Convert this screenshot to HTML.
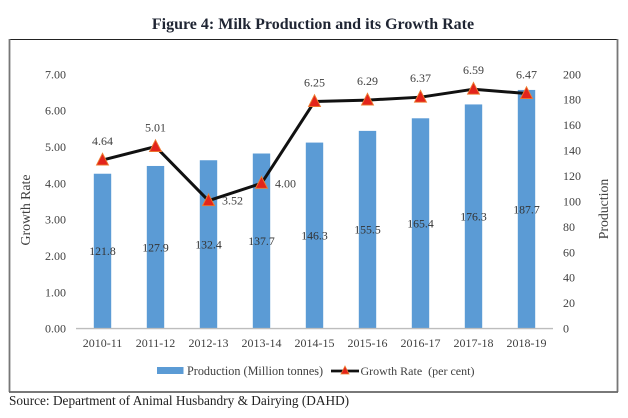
<!DOCTYPE html>
<html lang="en">
<head>
<meta charset="utf-8">
<title>Figure 4: Milk Production and its Growth Rate</title>
<style>
html,body{margin:0;padding:0;background:#fff;width:628px;height:418px;overflow:hidden}
svg{display:block;font-family:"Liberation Serif",serif}
</style>
</head>
<body>
<svg id="chart" width="628" height="418" viewBox="0 0 628 418" xmlns="http://www.w3.org/2000/svg">
  <rect x="0" y="0" width="628" height="418" fill="#fff"/>
  <text x="313" y="29" text-anchor="middle" font-size="16" font-weight="bold" fill="#1f2533">Figure 4: Milk Production and its Growth Rate</text>
  <line x1="9" y1="39.5" x2="618" y2="39.5" stroke="#222" stroke-width="1"/>
  <line x1="9.5" y1="39" x2="9.5" y2="392" stroke="#777" stroke-width="1.8"/>
  <line x1="617.5" y1="39" x2="617.5" y2="392" stroke="#777" stroke-width="1.8"/>
  <line x1="9" y1="392" x2="618" y2="392" stroke="#666" stroke-width="1.8"/>
  <g id="bars"></g>
  <line x1="76" y1="328.6" x2="553" y2="328.6" stroke="#bdbdbd" stroke-width="1.4"/>
  <g id="ticks"></g>
  <g id="line-series"></g>
  <g id="labels"></g>
  <text transform="translate(30,210) rotate(-90)" text-anchor="middle" font-size="13.8" fill="#404040">Growth Rate</text>
  <text transform="translate(608,209) rotate(-90)" text-anchor="middle" font-size="13.8" fill="#404040">Production</text>
  <g>
    <rect x="157" y="367" width="26.5" height="7" fill="#5b9bd5"/>
    <text x="187" y="375" font-size="12.2" fill="#404040">Production (Million tonnes)</text>
    <line x1="331" y1="371" x2="359" y2="371" stroke="#111" stroke-width="2.8"/>
    <polygon points="345,366 349,374 341,374" fill="#e3241b" stroke="#ed7d31" stroke-width="0.8"/>
    <text x="360.5" y="375" font-size="12" fill="#404040" xml:space="preserve">Growth Rate  (per cent)</text>
  </g>
  <text x="9" y="405" font-size="13.3" fill="#222">Source: Department of Animal Husbandry &amp; Dairying (DAHD)</text>
</svg>
<script>
var categories = ['2010-11','2011-12','2012-13','2013-14','2014-15','2015-16','2016-17','2017-18','2018-19'];
var production = [121.8,127.9,132.4,137.7,146.3,155.5,165.4,176.3,187.7];
var growthRate = [4.64,5.01,3.52,4.00,6.25,6.29,6.37,6.59,6.47];
var growthLabelSide = ['top','top','right','right','top','top','top','top','top'];
var leftTicks = [0,1,2,3,4,5,6,7];
var rightTicks = [0,20,40,60,80,100,120,140,160,180,200];

var NS = 'http://www.w3.org/2000/svg';
var plotLeft = 76, plotRight = 553, plotBottom = 328.6, plotTop = 74.3;
var leftMax = 7, rightMax = 200;

function xScale(i){ return plotLeft + (plotRight - plotLeft) * (i + 0.5) / categories.length; }
function yLeft(v){ return plotBottom - (plotBottom - plotTop) * v / leftMax; }
function yRight(v){ return plotBottom - (plotBottom - plotTop) * v / rightMax; }
function make(tag, attrs, parent, txt){
  var el = document.createElementNS(NS, tag);
  for (var k in attrs) el.setAttribute(k, attrs[k]);
  if (txt !== undefined) el.textContent = txt;
  parent.appendChild(el);
  return el;
}
var textColor = '#404040';
var barsG = document.getElementById('bars');
var ticksG = document.getElementById('ticks');
var lineG = document.getElementById('line-series');
var labelsG = document.getElementById('labels');

leftTicks.forEach(function(v){
  var t = make('text', {x:66, y:yLeft(v)+4, 'text-anchor':'end', 'font-size':12, fill:textColor}, ticksG, v.toFixed(2));
  
  
});
rightTicks.forEach(function(v){
  var t = make('text', {x:563, y:yRight(v)+4, 'font-size':12, fill:textColor}, ticksG, String(v));
  
  
});
categories.forEach(function(c, i){
  var t = make('text', {x:xScale(i), y:347, 'text-anchor':'middle', 'font-size':12, fill:textColor}, ticksG, c);
  
  
});
production.forEach(function(v, i){
  var y = yRight(v);
  var b = make('rect', {x:xScale(i)-8.7, y:y, width:17.4, height:plotBottom-y, fill:'#5b9bd5'}, barsG);
  
  
  var t = make('text', {x:xScale(i), y:(y+plotBottom)/2+4, 'text-anchor':'middle', 'font-size':11.8, fill:'#333'}, labelsG, v.toFixed(1));
  
  
});
var pts = growthRate.map(function(v, i){ return xScale(i) + ',' + yLeft(v); }).join(' ');
var pl = make('polyline', {points:pts, fill:'none', stroke:'#111', 'stroke-width':3, 'stroke-linejoin':'round'}, lineG);


growthRate.forEach(function(v, i){
  var x = xScale(i), y = yLeft(v);
  var m = make('polygon', {points:[x,y-6.8,x+6,y+5,x-6,y+5].join(' '), fill:'#e3241b', stroke:'#ed7d31', 'stroke-width':0.9}, lineG);
  
  
  var right = growthLabelSide[i] === 'right';
  var t = make('text', {x: right ? x+13.5 : x, y: right ? y+4 : y-15, 'text-anchor': right ? 'start' : 'middle', 'font-size':12, fill:textColor}, labelsG, v.toFixed(2));
  
  
});
</script>
</body>
</html>
